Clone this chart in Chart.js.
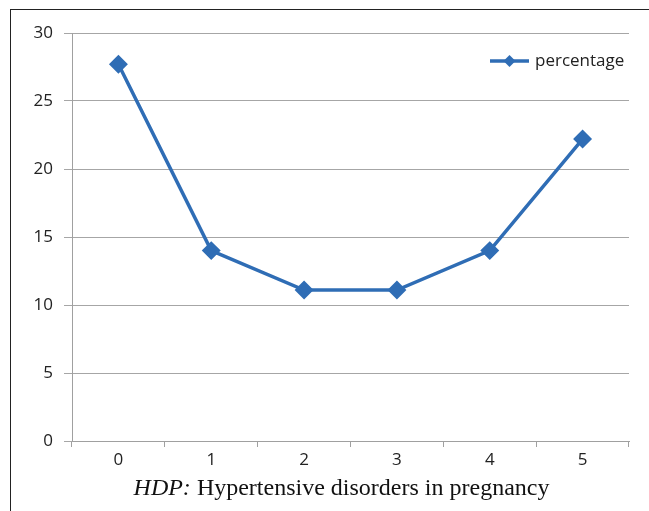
<!DOCTYPE html>
<html>
<head>
<meta charset="utf-8">
<script src="https://cdn.jsdelivr.net/npm/chart.js@4/dist/chart.umd.min.js"></script>
<style>
html,body{margin:0;padding:0;background:#fff;}
#wrap{position:relative;width:649px;height:511px;overflow:hidden;}
#frame{position:absolute;left:10px;top:9px;width:700px;height:600px;border-left:1.5px solid #222;border-top:1.5px solid #222;}
#cv{position:absolute;left:0;top:0;}
#cap{position:absolute;left:0;width:683px;top:474px;text-align:center;font-family:"Liberation Serif","Times New Roman",serif;font-size:24px;color:#111;}
</style>
</head>
<body>
<div id="wrap">
<div id="frame"></div>
<canvas id="cv" width="649" height="511"></canvas>
<div id="cap"><i>HDP:</i> Hypertensive disorders in pregnancy</div>
</div>
<script>
// data
let Labels=['0','1','2','3','4','5']
let Pct=[27.7,14,11.1,11.1,14,22.2]
let SeriesName='percentage'
let BLUE='#2f6db5'

// legend drawn inside the plot, line + diamond like the original
const insideLegend={
id:'insideLegend',
afterDraw(c){
let x=c.ctx
x.save()
x.strokeStyle=BLUE;x.lineWidth=3.5
x.beginPath();x.moveTo(490,61);x.lineTo(529,61);x.stroke()
x.fillStyle=BLUE
x.beginPath();x.moveTo(509.5,55);x.lineTo(515.5,61);x.lineTo(509.5,67);x.lineTo(503.5,61);x.closePath();x.fill()
x.fillStyle='#222';x.font='17px "Open Sans"';x.textBaseline='middle';x.textAlign='left'
x.fillText(SeriesName,535,61)
x.restore()
}}

let Chart1=new Chart(document.getElementById('cv'),{
type:'line',
data:{labels:Labels,datasets:[{label:SeriesName,data:Pct,borderColor:BLUE,backgroundColor:BLUE,borderWidth:3.5,pointStyle:'rectRot',pointRadius:7,pointHoverRadius:7,tension:0}]},
options:{
responsive:false,animation:false,
layout:{padding:{top:33,right:20,left:0,bottom:0}},
plugins:{legend:{display:false},tooltip:{enabled:false}},
scales:{
x:{offset:true,
grid:{offset:true,drawOnChartArea:false,drawTicks:true,tickLength:6,color:'#a0a0a0'},
border:{color:'#a0a0a0',width:1},
ticks:{color:'#222',font:{family:'Open Sans',size:17},padding:3},
afterFit(s){s.height=70}},
y:{min:0,max:30,
grid:{color:'#a6a6a6',tickLength:8,lineWidth:1},
border:{color:'#a0a0a0',width:1},
ticks:{stepSize:5,color:'#222',font:{family:'Open Sans',size:17},padding:11},
afterFit(s){s.width=72}}
}},
plugins:[insideLegend]
})
</script>
</body>
</html>
